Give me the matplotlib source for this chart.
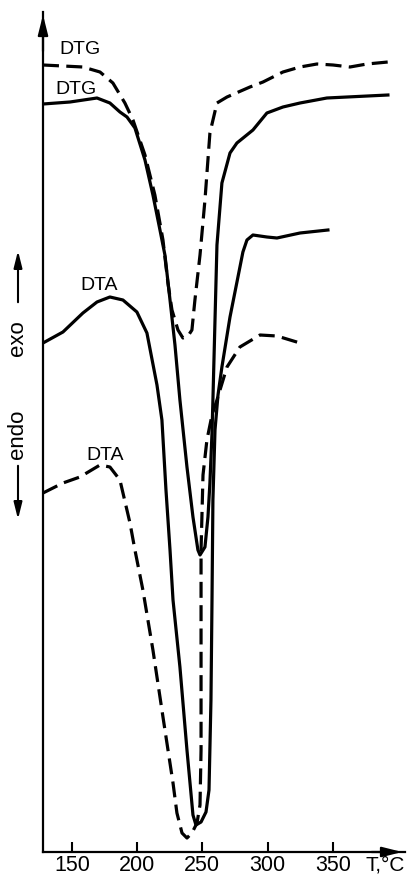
import matplotlib
matplotlib.use("Agg")
import matplotlib.pyplot as plt

plt.rcParams["font.family"] = ["Liberation Sans", "DejaVu Sans"]

# temperature, deg C
dtg_dash_t = [127.8, 158.4, 171.5, 181.4, 190.6, 196.8, 206.0, 213.6, 219.8, 223.6, 226.7,
              231.3, 235.1, 239.0, 242.0, 244.3, 248.2, 252.0, 255.8, 261.2, 268.9, 286.5,
              296.5, 311.8, 324.9, 337.9, 350.2, 363.2, 376.2, 392.3]
dtg_dash_v = [787, 785, 780, 769, 749, 732, 697, 657, 612, 569, 542,
              522, 514, 516, 522, 552, 597, 652, 719, 749, 755, 765,
              770, 780, 785, 788, 787, 785, 788, 790]

dtg_solid_t = [127.8, 148.5, 169.2, 179.1, 186.8, 192.2, 198.3, 206.0, 212.1, 217.5, 221.3,
               225.2, 229.0, 232.8, 238.2, 242.8, 246.6, 248.2, 252.0, 254.3, 255.8, 257.4,
               258.1, 259.7, 261.2, 265.0, 271.2, 276.5, 288.8, 299.5, 311.8, 324.9, 345.5,
               392.3]
dtg_solid_v = [748, 750, 754, 749, 740, 735, 724, 692, 657, 622, 597,
               552, 507, 452, 385, 335, 302, 297, 305, 335, 369, 419,
               452, 532, 607, 669, 699, 709, 722, 739, 745, 749, 754,
               757]

dta_solid_t = [127.8, 143.1, 158.4, 169.2, 179.1, 189.1, 199.8, 207.5, 215.2, 219.0, 222.1,
               225.2, 227.5, 232.8, 238.2, 242.8, 245.1, 249.0, 252.8, 255.1, 256.6, 257.4,
               258.1, 259.7, 262.0, 265.0, 271.2, 277.3, 281.1, 284.2, 288.8, 299.5, 307.2,
               324.9, 346.3]
dta_solid_v = [509, 520, 539, 550, 555, 552, 540, 519, 467, 432, 362,
               302, 252, 185, 102, 37, 27, 30, 40, 62, 152, 252,
               352, 422, 457, 485, 535, 575, 600, 612, 617, 615, 614,
               619, 622]

dta_dash_t = [127.8, 143.1, 156.1, 171.5, 179.1, 186.8, 194.5, 198.3, 204.4, 212.1, 219.8,
              227.5, 230.5, 234.4, 238.2, 242.0, 245.9, 248.2, 249.0, 249.0, 249.0, 250.5,
              253.5, 257.4, 261.2, 268.9, 278.8, 294.2, 307.2, 324.9]
dta_dash_v = [359, 369, 375, 387, 385, 372, 329, 302, 262, 202, 135,
              69, 39, 19, 14, 19, 29, 47, 102, 202, 302, 377,
              412, 437, 452, 485, 505, 517, 516, 509]

x_ticks = [150, 200, 250, 300, 350]

fig = plt.figure(figsize=(4.1, 8.75), dpi=100)
ax = fig.add_axes([43 / 410, 23 / 875, 362 / 410, 840 / 875])

lw = 2.3
dash = (0, (5, 2.3))
ax.plot(dtg_dash_t, dtg_dash_v, color="black", lw=lw, ls=dash)
ax.plot(dtg_solid_t, dtg_solid_v, color="black", lw=lw)
ax.plot(dta_solid_t, dta_solid_v, color="black", lw=lw)
ax.plot(dta_dash_t, dta_dash_v, color="black", lw=lw, ls=dash)

ax.set_xlim(127.8, 405.4)
ax.set_ylim(0, 840)

for s in ["top", "right"]:
    ax.spines[s].set_visible(False)
for s in ["left", "bottom"]:
    ax.spines[s].set_linewidth(1.6)

ax.set_yticks([])
ax.set_xticks(x_ticks)
ax.set_xticklabels([str(t) for t in x_ticks], fontsize=15.5)
ax.tick_params(axis="x", direction="in", length=7, width=1.5, pad=2.5)

# axis arrows
arrow = dict(arrowstyle="-|>,head_length=1.2,head_width=0.3", color="black", lw=1.6)
ax.annotate("", xy=(0, 1), xytext=(0, 0.95), xycoords="axes fraction", arrowprops=arrow)
ax.annotate("", xy=(1, 0), xytext=(0.9, 0), xycoords="axes fraction", arrowprops=arrow)

ax.text(390, -13, "T,°C", fontsize=15, ha="center", va="center", clip_on=False)

# curve labels
ax.text(156, 802, "DTG", fontsize=14, ha="center", va="center")
ax.text(153, 762, "DTG", fontsize=14, ha="center", va="center")
ax.text(170.7, 566, "DTA", fontsize=14, ha="center", va="center")
ax.text(175.4, 397, "DTA", fontsize=14, ha="center", va="center")

# exo / endo
xl = 18 / 410
small = dict(arrowstyle="-|>,head_length=1.0,head_width=0.25", color="black", lw=1.5)
fig.text(xl, 1 - 338 / 875, "exo", rotation=90, fontsize=16, ha="center", va="center")
fig.text(xl, 1 - 434 / 875, "endo", rotation=90, fontsize=16, ha="center", va="center")
ax.annotate("", xy=(xl, 1 - 248 / 875), xytext=(xl, 1 - 305 / 875),
            xycoords="figure fraction", arrowprops=small)
ax.annotate("", xy=(xl, 1 - 522 / 875), xytext=(xl, 1 - 463 / 875),
            xycoords="figure fraction", arrowprops=small)

fig.savefig("out.png", dpi=100)
